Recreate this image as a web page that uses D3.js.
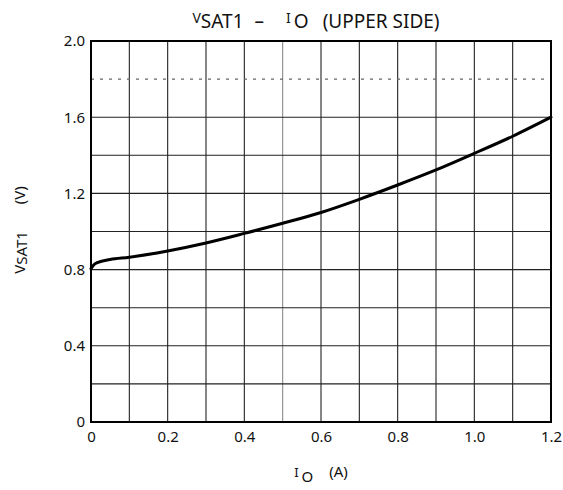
<!DOCTYPE html>
<html lang="en">

<head>
    <meta charset="UTF-8">
    <title>VSAT1 - IO (UPPER SIDE)</title>
    <style>
        body {
            margin: 0;
            background: #fff;
        }

        svg text {
            font-family: "Noto Sans", sans-serif;
            fill: #111;
        }

        .grid line {
            stroke: #222;
            stroke-width: 1.1;
        }
    </style>
</head>

<body>
    <script src="https://d3js.org/d3.v7.min.js"></script>
    <script>

        // values
        let ioVals = [0, 0.01, 0.03, 0.05, 0.1, 0.2, 0.3, 0.4, 0.5, 0.6, 0.7, 0.8, 0.9, 1.0, 1.1, 1.2];
        let vsatVals = [0.805, 0.83, 0.845, 0.853, 0.865, 0.898, 0.94, 0.99, 1.043, 1.10, 1.169, 1.244, 1.323, 1.41, 1.50, 1.60];

        let xTicks = [0, 0.2, 0.4, 0.6, 0.8, 1.0, 1.2];
        let yTicks = [0, 0.4, 0.8, 1.2, 1.6, 2.0];
        let xGrid = [0.1, 0.2, 0.3, 0.4, 0.5, 0.6, 0.7, 0.8, 0.9, 1.0, 1.1];
        let yGrid = [0.2, 0.4, 0.6, 0.8, 1.0, 1.2, 1.4, 1.6, 1.8];

        // 1. svg
        let W = 563, H = 490;
        let m = { t: 41, b: 68, l: 91, r: 12 };
        let w = W - m.l - m.r;
        let h = H - m.t - m.b;

        let s = d3.select('body').append('svg')
            .attr('width', W)
            .attr('height', H);

        let x = d3.scaleLinear().domain([0, 1.2]).range([m.l, m.l + w]);
        let y = d3.scaleLinear().domain([0, 2]).range([m.t + h, m.t]);

        // 2. grid
        let g = s.append('g').attr('class', 'grid');

        g.selectAll('.vx')
            .data(xGrid)
            .enter().append('line')
            .attr('x1', d => x(d)).attr('x2', d => x(d))
            .attr('y1', y(0)).attr('y2', y(2))
            .style('stroke', d => d == 0.5 ? '#8a8a8a' : null);

        g.selectAll('.hy')
            .data(yGrid)
            .enter().append('line')
            .attr('x1', x(0)).attr('x2', x(1.2))
            .attr('y1', d => y(d)).attr('y2', d => y(d))
            .style('stroke', d => d == 1.8 ? '#666' : null)
            .style('stroke-dasharray', d => d == 1.8 ? '3,6' : null);

        // frame
        s.append('rect')
            .attr('x', x(0)).attr('y', y(2))
            .attr('width', w).attr('height', h)
            .attr('fill', 'none')
            .attr('stroke', '#000')
            .attr('stroke-width', 2);

        // 3. axes (labels only)
        let ax = s.append('g')
            .attr('transform', `translate(0,${y(0)})`)
            .call(d3.axisBottom(x).tickValues(xTicks).tickSize(0).tickPadding(9)
                .tickFormat(d => d == 0 ? '0' : d3.format('.1f')(d)));
        ax.select('.domain').remove();
        ax.selectAll('text').style('font-size', '15px').style('font-family', '"Noto Sans", sans-serif');

        let ay = s.append('g')
            .attr('transform', `translate(${x(0)},0)`)
            .call(d3.axisLeft(y).tickValues(yTicks).tickSize(0).tickPadding(6)
                .tickFormat(d => d == 0 ? '0' : d3.format('.1f')(d)));
        ay.select('.domain').remove();
        ay.selectAll('text').style('font-size', '15px').style('font-family', '"Noto Sans", sans-serif');

        // 4. curve
        let pts = ioVals.map((d, i) => [d, vsatVals[i]]);
        let line = d3.line()
            .x(d => x(d[0]))
            .y(d => y(d[1]))
            .curve(d3.curveMonotoneX);

        s.append('path')
            .datum(pts)
            .attr('d', line)
            .attr('fill', 'none')
            .attr('stroke', '#000')
            .attr('stroke-width', 3)
            .attr('stroke-linecap', 'round');

        // 5. titles
        let t = s.append('text')
            .attr('x', 316).attr('y', 28)
            .attr('text-anchor', 'middle')
            .style('font-size', '19px');
        t.append('tspan').text('V').style('font-size', '14px').attr('dy', -5);
        t.append('tspan').text('SAT1').attr('dy', 5);
        t.append('tspan').text('–').attr('dx', 11);
        t.append('tspan').text('I').style('font-size', '14px').attr('dx', 22).attr('dy', -5);
        t.append('tspan').text('O').attr('dx', 3).attr('dy', 5);
        t.append('tspan').text('(UPPER SIDE)').attr('dx', 14);

        let xl = s.append('text')
            .attr('x', 321).attr('y', 477)
            .attr('text-anchor', 'middle')
            .style('font-size', '15px');
        xl.append('tspan').text('I').style('font-size', '13px');
        xl.append('tspan').text('O').attr('dx', 3).attr('dy', 5);
        xl.append('tspan').text('(A)').attr('dx', 16).attr('dy', -5);

        let yl = s.append('text')
            .attr('transform', 'translate(25,230) rotate(-90)')
            .attr('text-anchor', 'middle')
            .style('font-size', '15px');
        yl.append('tspan').text('V');
        yl.append('tspan').text('SAT1').attr('dy', 2);
        yl.append('tspan').text('(V)').attr('dx', 27).attr('dy', -2);

    </script>
</body>

</html>
